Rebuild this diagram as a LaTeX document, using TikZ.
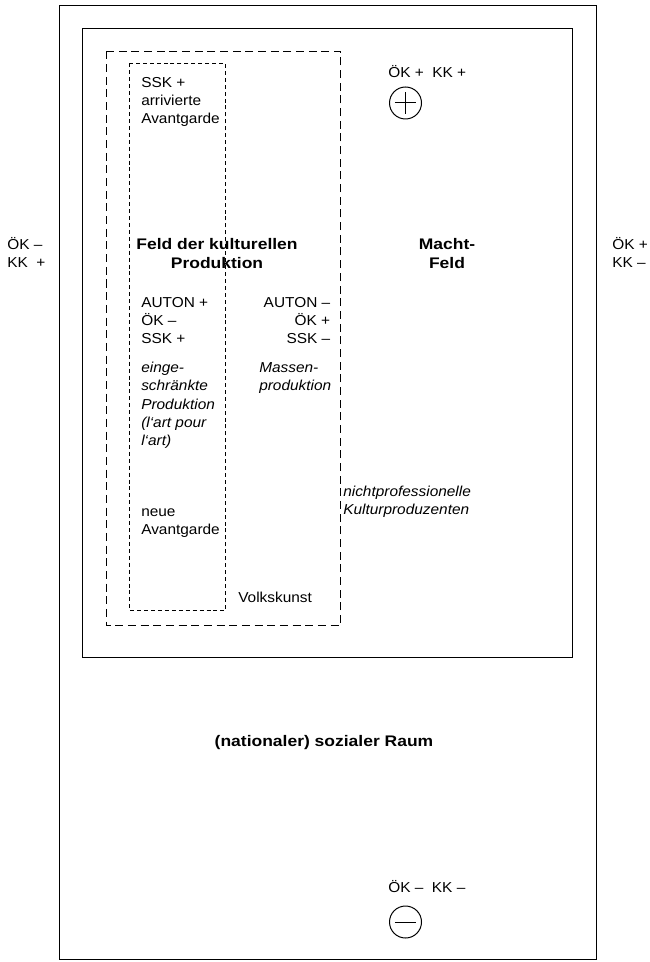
\documentclass[tikz,border=0pt]{standalone}
\usepackage{fontspec}
\setmainfont{Liberation Sans}[FakeStretch=1.07]
\newfontfamily\boldwide{Liberation Sans}[FakeStretch=1.14]
\begin{document}
\begin{tikzpicture}[x=0.75pt,y=-0.75pt,
  txt/.style={inner sep=0pt,font=\fontsize{10.8}{13.7}\selectfont,align=left},
  bold/.style={txt,font=\boldwide\fontsize{11.5}{14.25}\selectfont\bfseries,align=center},
  ital/.style={txt,font=\fontsize{10.8}{13.7}\selectfont\itshape},
  frame/.style={draw,line width=0.9pt},
  bigdash/.style={draw,line width=0.75pt,dash pattern=on 6pt off 3.5pt},
  smalldash/.style={draw,line width=0.75pt,dash pattern=on 3pt off 2.2pt},
  sign/.style={circle,draw,line width=0.75pt,minimum size=24pt,inner sep=0pt}]
\useasboundingbox (0,0) rectangle (649,962);
% frames
\draw[frame] (59.5,5.5) rectangle (596.5,959.5);
\draw[frame] (82.5,28.5) rectangle (572.5,657.5);
\draw[bigdash] (106.5,51.5) rectangle (340.5,625.5);
\draw[smalldash] (129.5,63.5) rectangle (225.5,610.5);
% texts
\node[txt,anchor=north west] (ssk) at (141,77) {SSK +\\arrivierte\\Avantgarde};
\node[bold] (feld) at (217,254) {Feld der kulturellen\\Produktion};
\node[bold] (macht) at (447,254) {Macht-\\Feld};
\node[txt,anchor=north west] (autp) at (141,297) {AUTON +\\ÖK –\\SSK +};
\node[txt,anchor=north east,align=right] (autm) at (330.5,297) {AUTON –\\ÖK +\\SSK –};
\node[ital,anchor=north west] (eing) at (141,362) {einge-\\schränkte\\Produktion\\(l‘art pour\\l‘art)};
\node[ital,anchor=north west] (mass) at (259,362) {Massen-\\produktion};
\node[ital,anchor=north west] (nicht) at (343,486) {nichtprofessionelle\\Kulturproduzenten};
\node[txt,anchor=north west] (neue) at (141,508) {neue\\Avantgarde};
\node[txt,anchor=north west] (volk) at (238,592) {Volkskunst};
\node[bold] (raum) at (324,743) {(nationaler) sozialer Raum};
\node[txt,anchor=north west] (left) at (7,237) {ÖK –\\KK \ +};
\node[txt,anchor=north west] (right) at (612,237) {ÖK +\\KK –};
\node[txt,anchor=west] (top) at (388,72) {ÖK + \ KK +};
\node[txt,anchor=west] (bot) at (388,887) {ÖK – \ KK –};
% signs
\node[sign] (plus) at (405.5,103) {};
\draw[line width=0.75pt] ([xshift=-8pt]plus.center) -- ([xshift=8pt]plus.center);
\draw[line width=0.75pt] ([yshift=-8pt]plus.center) -- ([yshift=8pt]plus.center);
\node[sign] (minus) at (405.5,922) {};
\draw[line width=0.75pt] ([xshift=-8pt]minus.center) -- ([xshift=8pt]minus.center);
\end{tikzpicture}
\end{document}
